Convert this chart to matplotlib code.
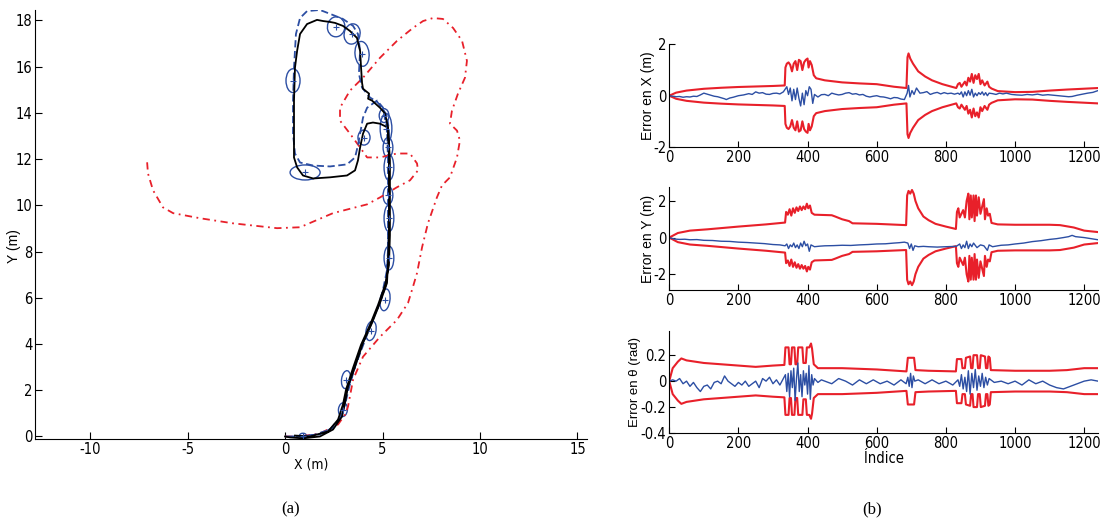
import numpy as np
import matplotlib.pyplot as plt
from matplotlib.patches import Ellipse

plt.rcParams['axes.unicode_minus'] = False
NARROW = dict(family='DejaVu Sans', stretch='condensed')
WIDE = dict(family='Liberation Sans')

# ---- (a) trajectories, metres ----
real_x = [0, 0.26, 0.92, 1.79, 2.46, 2.92, 3.08, 3.23, 3.59, 4.0, 4.46, 4.87, 5.23, 5.28, 5.33, 5.33, 5.33, 5.28,
          4.87, 4.51, 4.21, 4.0, 3.85, 3.74, 3.59, 3.18, 2.31, 1.44, 0.92, 0.62, 0.46, 0.46, 0.46, 0.51, 0.62, 0.77,
          1.13, 1.64, 1.95, 2.31, 2.56, 2.97, 3.33, 3.69, 3.85, 3.9, 3.95, 4.0, 4.31, 4.26, 4.46, 4.87, 5.13, 5.28,
          5.38, 5.38, 5.38, 5.33, 5.13, 4.77, 4.36, 3.9, 3.49, 3.13, 2.97, 2.72, 2.21, 1.28, 0.51]
real_y = [0, -0.04, -0.08, 0, 0.30, 0.86, 1.47, 2.16, 3.02, 4.05, 4.91, 5.78, 6.64, 7.5, 8.92, 10.22, 12.07, 13.36,
          13.53, 13.58, 13.53, 13.1, 12.5, 11.94, 11.51, 11.29, 11.21, 11.16, 11.29, 11.64, 12.07, 13.1, 14.53, 15.95,
          16.68, 17.41, 17.84, 18.02, 17.97, 17.93, 17.89, 17.76, 17.54, 17.24, 16.68, 15.95, 15.3, 15.04, 14.83,
          14.61, 14.53, 14.22, 13.97, 13.36, 11.94, 10.22, 8.71, 7.41, 6.55, 5.69, 4.83, 3.97, 2.97, 2.03, 1.38,
          0.73, 0.22, 0, 0.04]

est_x = [0, 0.77, 1.79, 2.56, 2.97, 3.18, 3.54, 3.95, 4.36, 4.82, 5.18, 5.28, 5.28, 5.28, 5.28, 5.23, 5.03, 4.72,
         4.21, 4.0, 3.85, 3.74, 3.59, 3.18, 2.31, 1.44, 0.77, 0.51, 0.41, 0.41, 0.46, 0.56, 0.77, 1.13, 1.79, 2.31,
         2.97, 3.49, 3.74, 3.85, 3.79, 3.95, 4.36, 4.72, 4.97, 5.23, 5.33, 5.33, 5.33, 5.23, 4.92, 4.46, 4.05, 3.59,
         3.28, 3.08, 2.82, 2.31, 1.38, 0.36]
est_y = [0, 0, 0.09, 0.43, 1.08, 2.03, 2.89, 3.97, 4.78, 5.69, 6.55, 7.63, 8.92, 10.22, 11.94, 13.32, 14.22, 14.53,
         14.22, 13.79, 13.1, 12.59, 12.07, 11.77, 11.68, 11.72, 11.85, 12.24, 13.1, 14.53, 15.95, 17.41, 18.1, 18.4,
         18.45, 18.28, 18.06, 17.76, 17.41, 16.68, 15.69, 15.09, 14.66, 14.48, 14.22, 13.88, 13.23, 11.51, 8.92,
         7.2, 5.91, 4.96, 4.05, 3.02, 2.11, 1.38, 0.82, 0.3, 0.04, 0]

odo_x = [0, 0.77, 1.79, 2.72, 3.08, 3.23, 3.49, 4.0, 4.87, 5.74, 6.31, 6.56, 6.77, 7.03, 7.33, 7.79, 8.05, 8.46,
         8.82, 8.97, 8.82, 8.46, 8.56, 8.87, 9.23, 9.33, 9.08, 8.62, 8.1, 7.59, 7.08, 6.56, 5.74, 4.87, 4.0, 3.33,
         2.82, 2.82, 3.33, 3.85, 4.21, 4.87, 5.74, 6.41, 6.77, 6.82, 6.41, 5.74, 4.87, 4.21, 2.46, 0.77, -0.41,
         -2.67, -4.36, -5.74, -6.26, -6.77, -7.03, -7.08]
odo_y = [0, 0, 0.13, 0.52, 0.95, 1.29, 2.46, 3.45, 4.31, 5.04, 5.78, 6.47, 7.07, 8.19, 9.22, 10.34, 10.86, 11.21,
         12.07, 12.8, 13.23, 13.53, 14.09, 14.83, 15.52, 16.25, 17.11, 17.67, 18.06, 18.1, 17.97, 17.67, 17.11,
         16.38, 15.52, 14.96, 14.22, 13.66, 13.1, 12.5, 12.07, 12.07, 12.24, 12.24, 11.81, 11.51, 11.08, 10.78,
         10.34, 10.04, 9.66, 9.05, 9.01, 9.22, 9.44, 9.66, 9.91, 10.65, 11.38, 11.94]

# uncertainty ellipses: centre, width, height (m), tilt (deg)
ell_x = [2.62, 3.44, 3.95, 0.41, 1.03, 4.05, 5.08, 5.18, 5.28, 5.33, 5.28, 5.33, 5.33, 5.13, 4.41, 3.13, 2.97, 0.92]
ell_y = [17.72, 17.41, 16.55, 15.39, 11.42, 12.93, 13.88, 13.32, 12.5, 11.64, 10.43, 9.44, 7.72, 5.91, 4.57, 2.46,
         1.16, 0.04]
ell_w = [0.9, 0.8, 0.72, 0.72, 1.54, 0.62, 0.5, 0.6, 0.5, 0.5, 0.5, 0.5, 0.5, 0.5, 0.5, 0.46, 0.46, 0.35]
ell_h = [0.86, 0.9, 1.08, 1.03, 0.65, 0.65, 0.6, 1.3, 0.86, 1.12, 0.78, 1.16, 1.03, 0.95, 0.86, 0.78, 0.6, 0.2]
ell_a = [20, -30, 8, 0, 0, 0, 0, 0, 0, 0, 0, 0, 0, -10, -15, -10, -10, 0]

# ---- (b) errors and bounds vs sample index ----
xb_i = [0, 20, 50, 100, 150, 200, 250, 300, 334, 336, 340, 345, 350, 355, 360, 365, 370, 375, 380, 385, 390, 395,
        400, 403, 407, 412, 418, 425, 450, 500, 550, 600, 650, 686, 689, 692, 697, 705, 720, 740, 760, 790, 830,
        835, 840, 845, 855, 860, 865, 870, 875, 880, 885, 890, 895, 900, 905, 912, 920, 925, 932, 950, 1000, 1050,
        1100, 1150, 1240]
xb_v = [0.0, 0.12, 0.2, 0.27, 0.31, 0.34, 0.36, 0.38, 0.4, 1.1, 1.25, 1.3, 1.2, 0.95, 1.25, 1.35, 1.0, 1.4, 1.35,
        1.0, 1.3, 1.4, 1.45, 1.1, 1.35, 1.2, 0.8, 0.68, 0.6, 0.52, 0.48, 0.45, 0.35, 0.3, 1.5, 1.65, 1.45, 1.25, 0.95,
        0.75, 0.6, 0.45, 0.3, 0.45, 0.5, 0.35, 0.55, 0.4, 0.7, 0.55, 0.85, 0.5, 0.8, 0.65, 0.85, 0.45, 0.6, 0.4,
        0.55, 0.35, 0.28, 0.18, 0.14, 0.15, 0.2, 0.24, 0.3]
ex_i = [0, 10, 20, 30, 40, 50, 60, 70, 80, 90, 100, 110, 120, 130, 140, 150, 160, 165, 175, 185, 200, 215, 230,
        240, 250, 260, 270, 280, 290, 300, 310, 320, 330, 340, 345, 350, 355, 360, 365, 370, 375, 380, 385, 390,
        395, 400, 405, 410, 415, 420, 430, 440, 450, 460, 470, 480, 490, 500, 510, 520, 530, 540, 550, 560, 570,
        580, 590, 600, 610, 620, 630, 640, 650, 660, 670, 680, 688, 692, 696, 702, 708, 715, 725, 735, 745, 755,
        765, 775, 785, 795, 805, 815, 825, 835, 840, 845, 850, 855, 860, 865, 870, 875, 880, 885, 890, 895, 900,
        905, 910, 915, 920, 925, 935, 945, 955, 965, 975, 990, 1005, 1020, 1035, 1050, 1065, 1080, 1095, 1110,
        1125, 1140, 1155, 1165, 1180, 1195, 1210, 1225, 1240]
ex_v = [0, -0.02, -0.04, -0.03, -0.06, -0.04, -0.05, -0.02, -0.03, 0.03, 0.1, 0.06, 0.02, -0.02, -0.04, -0.08,
        -0.12, -0.15, -0.09, -0.06, 0.0, 0.03, 0.08, 0.05, 0.15, 0.1, 0.12, 0.06, 0.05, 0.09, 0.1, 0.07, 0.15, 0.35,
        0.05, 0.3, -0.2, 0.25, -0.15, 0.3, -0.1, -0.4, 0.1, -0.35, 0.2, 0.0, 0.35, 0.25, -0.3, 0.05, -0.05, 0.04,
        0.05, 0.0, 0.1, 0.06, 0.03, 0.05, 0.1, 0.12, 0.06, 0.08, 0.03, 0.05, -0.02, -0.05, -0.02, 0.0, -0.04, -0.05,
        -0.08, -0.12, -0.07, -0.08, -0.13, -0.15, 0.1, 0.4, -0.05, 0.2, 0.05, 0.3, 0.1, 0.12, 0.16, 0.05, 0.1, 0.13,
        0.07, 0.12, 0.08, 0.1, 0.06, 0.1, 0.05, 0.15, -0.05, 0.15, 0.0, 0.2, 0.02, 0.25, -0.05, 0.1, 0.0, 0.12,
        0.05, 0.15, 0.02, 0.12, 0.0, 0.1, 0.08, 0.05, 0.1, 0.07, 0.1, 0.05, 0.03, 0.02, 0.05, 0.03, 0.06, 0.02, 0.04,
        0.02, 0.0, -0.02, -0.04, -0.03, 0.02, 0.06, 0.1, 0.13, 0.2]

yb_i = [0, 25, 60, 110, 200, 280, 335, 338, 343, 348, 353, 358, 363, 368, 373, 378, 383, 388, 393, 398, 402, 407,
        412, 420, 470, 480, 500, 520, 530, 600, 685, 688, 692, 697, 702, 707, 712, 720, 735, 750, 770, 800, 829,
        832, 836, 840, 845, 850, 855, 860, 865, 868, 872, 875, 880, 883, 887, 890, 895, 900, 905, 910, 913, 918,
        922, 927, 932, 950, 1000, 1100, 1130, 1170, 1200, 1240]
yb_v = [0, 0.25, 0.38, 0.45, 0.6, 0.72, 0.82, 1.4, 1.25, 1.55, 1.2, 1.6, 1.35, 1.65, 1.45, 1.7, 1.5, 1.7, 1.55,
        1.85, 1.6, 1.75, 1.35, 1.25, 1.22, 1.15, 1.0, 0.9, 0.78, 0.75, 0.68, 2.3, 2.55, 2.4, 2.6, 2.4, 2.0, 1.6,
        1.15, 0.95, 0.75, 0.6, 0.47, 1.4, 1.6, 1.1, 1.3, 1.5, 1.1, 2.0, 2.4, 1.0, 2.3, 1.1, 2.3, 0.9, 2.3, 1.2, 2.2,
        1.3, 1.7, 2.1, 1.0, 1.6, 1.2, 1.3, 0.8, 0.72, 0.7, 0.7, 0.68, 0.55, 0.38, 0.3]
ey_i = [0, 15, 30, 45, 60, 80, 100, 125, 150, 175, 200, 225, 250, 275, 300, 320, 335, 340, 345, 350, 355, 360, 365,
        370, 375, 380, 385, 390, 395, 400, 405, 410, 420, 435, 450, 475, 500, 525, 550, 575, 600, 625, 650, 665,
        680, 690, 695, 700, 705, 710, 720, 735, 750, 775, 800, 815, 830, 840, 845, 850, 855, 860, 865, 870, 875,
        880, 890, 900, 910, 920, 925, 935, 950, 960, 980, 1000, 1025, 1050, 1075, 1100, 1120, 1140, 1155, 1165,
        1175, 1190, 1200, 1220, 1240]
ey_v = [0, -0.08, -0.1, -0.09, -0.12, -0.11, -0.15, -0.16, -0.2, -0.21, -0.25, -0.27, -0.3, -0.33, -0.38, -0.4,
        -0.45, -0.35, -0.6, -0.4, -0.5, -0.3, -0.55, -0.4, -0.6, -0.3, -0.5, -0.2, -0.45, -0.35, -0.75, -0.4, -0.5,
        -0.47, -0.45, -0.44, -0.42, -0.43, -0.4, -0.38, -0.35, -0.34, -0.3, -0.28, -0.25, -0.3, -0.6, -0.35, -0.7,
        -0.45, -0.5, -0.48, -0.5, -0.52, -0.5, -0.49, -0.48, -0.35, -0.6, -0.4, -0.55, -0.2, -0.6, -0.35, -0.5, -0.3,
        -0.55, -0.4, -0.45, -0.7, -0.4, -0.5, -0.45, -0.42, -0.4, -0.35, -0.3, -0.22, -0.17, -0.1, -0.06, 0.0, 0.05,
        0.12, 0.05, 0.02, 0.0, -0.06, -0.12]

tb_i = [0, 10, 25, 35, 50, 100, 150, 200, 250, 300, 333, 336, 345, 348, 352, 355, 362, 365, 370, 373, 385, 388,
        395, 398, 405, 410, 413, 418, 430, 500, 600, 686, 690, 708, 712, 750, 829, 832, 845, 848, 855, 858, 870,
        873, 877, 880, 890, 893, 898, 901, 913, 916, 920, 923, 927, 930, 1000, 1100, 1150, 1200, 1240]
tb_v = [0, 0.1, 0.15, 0.175, 0.16, 0.14, 0.13, 0.12, 0.11, 0.12, 0.125, 0.26, 0.26, 0.13, 0.13, 0.26, 0.26, 0.13,
        0.13, 0.26, 0.26, 0.14, 0.14, 0.26, 0.26, 0.29, 0.25, 0.13, 0.1, 0.1, 0.09, 0.075, 0.18, 0.18, 0.085, 0.08,
        0.075, 0.17, 0.17, 0.1, 0.1, 0.18, 0.19, 0.1, 0.1, 0.2, 0.2, 0.1, 0.1, 0.2, 0.19, 0.1, 0.1, 0.19, 0.18,
        0.085, 0.08, 0.08, 0.085, 0.1, 0.1]
et_i = [0, 10, 20, 30, 40, 50, 60, 70, 80, 90, 100, 110, 120, 130, 140, 150, 160, 170, 180, 190, 200, 210, 220,
        230, 240, 250, 260, 270, 280, 290, 300, 310, 320, 330, 336, 340, 344, 348, 352, 356, 360, 364, 368, 372,
        376, 380, 384, 388, 392, 396, 400, 404, 408, 412, 416, 420, 430, 440, 450, 470, 490, 510, 530, 550, 570,
        590, 610, 630, 650, 670, 685, 690, 694, 698, 702, 706, 710, 720, 740, 760, 780, 800, 820, 835, 840, 845,
        850, 855, 860, 865, 870, 875, 880, 885, 890, 895, 900, 905, 910, 915, 920, 925, 940, 960, 980, 1000, 1020,
        1040, 1060, 1080, 1100, 1120, 1140, 1160, 1180, 1200, 1220, 1240]
et_v = [0, 0.01, 0.0, 0.02, -0.02, 0.0, -0.04, -0.01, -0.05, -0.08, -0.04, -0.03, -0.06, -0.01, 0.0, -0.02, 0.04,
        0.0, -0.02, -0.04, -0.01, -0.03, 0.0, -0.04, -0.02, 0.0, -0.05, 0.02, 0.0, 0.03, -0.02, 0.01, -0.03, 0.02,
        0.05, -0.08, 0.06, -0.12, 0.08, -0.05, 0.1, -0.15, 0.02, 0.14, -0.08, 0.05, -0.12, 0.08, -0.03, 0.06, -0.1,
        0.12, -0.14, 0.05, -0.03, 0.02, -0.01, 0.01, 0.0, -0.02, 0.02, 0.0, -0.03, 0.01, -0.02, 0.01, -0.02, 0.0,
        -0.03, 0.01, -0.02, 0.03, -0.04, 0.06, -0.05, 0.04, 0.0, 0.01, -0.02, 0.01, -0.02, 0.0, -0.03, 0.01, -0.04,
        0.05, -0.06, 0.03, -0.08, 0.08, -0.1, 0.06, -0.05, 0.09, -0.07, 0.04, -0.04, 0.06, -0.05, 0.03, -0.03, 0.02,
        -0.01, 0.0, -0.02, 0.0, -0.03, 0.01, -0.02, 0.0, -0.03, -0.05, -0.06, -0.04, -0.02, 0.0, 0.01, 0.0]

RED = '#e8202a'
BLUE = '#2c4ea3'

fig = plt.figure(figsize=(11.08, 5.23), dpi=100)

# ---------- (a) ----------
ax = fig.add_axes([0.032, 0.161, 0.498, 0.82])
ax.plot(odo_x, odo_y, color=RED, lw=1.3, dashes=[4, 2.5, 1, 2.5])
ax.plot(est_x, est_y, color=BLUE, lw=1.3, dashes=[4, 2])
ax.plot(real_x, real_y, color='black', lw=1.3)
for cx, cy, w, h, a in zip(ell_x, ell_y, ell_w, ell_h, ell_a):
    ax.add_patch(Ellipse((cx, cy), w, h, angle=a, fill=False, ec=BLUE, lw=1.0))
ax.plot(ell_x, ell_y, '+', color=BLUE, ms=4, mew=0.8)
ax.set_xlim(-12.8, 15.5)
ax.set_ylim(-0.1, 18.45)
ax.set_xticks([-10, -5, 0, 5, 10, 15])
ax.set_yticks(range(0, 19, 2))
for s in ['top', 'right']:
    ax.spines[s].set_visible(False)
ax.tick_params(direction='in', length=5, labelsize=10.5, pad=2)
for lab in ax.get_xticklabels() + ax.get_yticklabels():
    lab.set(**NARROW)
ax.set_xlabel('X (m)', fontsize=10, labelpad=1, **NARROW)
ax.set_ylabel('Y (m)', fontsize=10, **WIDE)
ax.yaxis.set_label_coords(-0.026, 0.45)
fig.text(0.262, 0.018, '(a)', family='Liberation Serif', fontsize=12, ha='center')

# ---------- (b) ----------
panels = [
    (0.719, xb_i, xb_v, ex_i, ex_v, (-2, 2), [-2, 0, 2], ['-2', '0', '2'], 'Error en X (m)', -0.033, 10),
    (0.446, yb_i, yb_v, ey_i, ey_v, (-2.85, 2.75), [-2, 0, 2], ['-2', '0', '2'], 'Error en Y (m)', -0.033, 10),
    (0.172, tb_i, tb_v, et_i, et_v, (-0.4, 0.39), [-0.4, -0.2, 0, 0.2], ['-0.4', '-0.2', '0', '0.2'],
     'Error en \u03b8 (rad)', -0.066, 9.5),
]
for bottom, bi, bv, ei, ev, ylim, yt, ytl, ylab, lx, lfs in panels:
    a = fig.add_axes([0.604, bottom, 0.387, 0.196])
    bv = np.array(bv)
    a.plot(bi, bv, color=RED, lw=1.5)
    a.plot(bi, -bv, color=RED, lw=1.5)
    a.plot(ei, ev, color=BLUE, lw=1.0)
    a.set_xlim(0, 1240)
    a.set_ylim(*ylim)
    a.set_xticks(range(0, 1201, 200))
    a.set_yticks(yt)
    a.set_yticklabels(ytl)
    for s in ['top', 'right']:
        a.spines[s].set_visible(False)
    a.tick_params(direction='in', length=4, labelsize=10.5, pad=2)
    for lab in a.get_xticklabels() + a.get_yticklabels():
        lab.set(**NARROW)
    a.set_ylabel(ylab, fontsize=lfs, **WIDE)
    a.yaxis.set_label_coords(lx, 0.5)
a.set_xlabel('\u00cdndice', fontsize=10.5, labelpad=0, **NARROW)
fig.text(0.787, 0.018, '(b)', family='Liberation Serif', fontsize=12, ha='center')

fig.savefig('out.png', dpi=100)
